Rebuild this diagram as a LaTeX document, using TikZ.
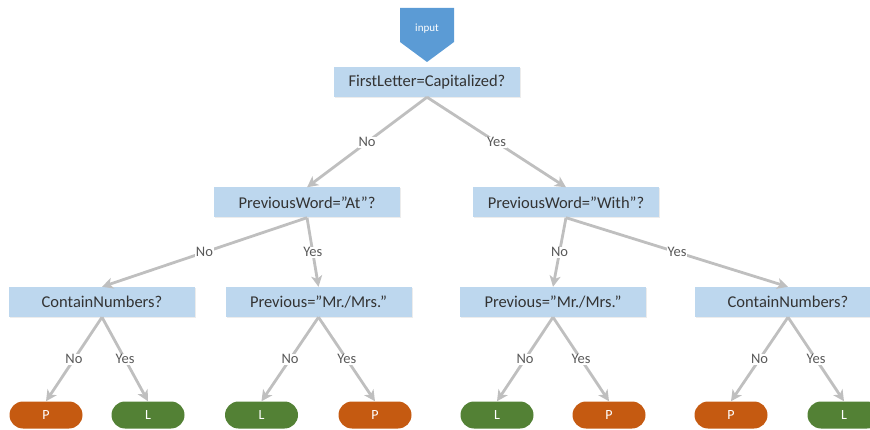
\documentclass[tikz,border=0pt]{standalone}
\usepackage{fontspec}
\setmainfont{Carlito}
\usetikzlibrary{arrows.meta,shapes.geometric,shadows}
\definecolor{qblue}{HTML}{BDD7EE}
\definecolor{inblue}{HTML}{5B9BD5}
\definecolor{leafP}{HTML}{C55A11}
\definecolor{leafL}{HTML}{538135}
\definecolor{edgegray}{HTML}{BFBFBF}
\definecolor{labgray}{HTML}{595959}
\definecolor{txtgray}{HTML}{333333}
\tikzset{
  question/.style={fill=qblue, minimum width=186pt, minimum height=30pt,
    inner sep=0pt, text=txtgray, font=\fontsize{16.5}{18}\selectfont,
    drop shadow={shadow xshift=1pt, shadow yshift=-1pt, opacity=0.15}},
  leaf/.style={rounded corners=13.5pt, minimum width=73pt, minimum height=27pt,
    inner sep=0pt, text=white, font=\fontsize{14}{16}\selectfont},
  leafp/.style={leaf, fill=leafP},
  leafl/.style={leaf, fill=leafL},
  branch/.style={draw=edgegray, line width=2.8pt,
    -{Stealth[length=11pt,width=11pt,inset=3pt]}},
  answer/.style={fill=white, text=labgray, inner sep=1pt,
    font=\fontsize{14.5}{16}\selectfont},
}
\begin{document}
\begin{tikzpicture}[x=1pt,y=-1pt]
\useasboundingbox (0,0) rectangle (870,430);
\clip (0,0) rectangle (870,430);

% entry marker
\path[fill=inblue] (400,8) -- (454,8) -- (454,42) -- (427,62) -- (400,42) -- cycle;
\node[text=white, font=\fontsize{11}{13}\selectfont] (in) at (427,29) {input};

% question boxes
\node[question] (q0) at (427,82) {FirstLetter=Capitalized?};
\node[question] (q1) at (307,202.5) {PreviousWord=”At”?};
\node[question] (q2) at (566,202.5) {PreviousWord=”With”?};
\node[question] (q3) at (102,302) {ContainNumbers?};
\node[question] (q4) at (318.5,302) {Previous=”Mr./Mrs.”};
\node[question] (q5) at (553,302) {Previous=”Mr./Mrs.”};
\node[question] (q6) at (788,302) {ContainNumbers?};

% leaves
\node[leafp] (l1) at (46,415) {P};
\node[leafl] (l2) at (148,415) {L};
\node[leafl] (l3) at (261.5,415) {L};
\node[leafp] (l4) at (375,415) {P};
\node[leafl] (l5) at (497,415) {L};
\node[leafp] (l6) at (609,415) {P};
\node[leafp] (l7) at (731,415) {P};
\node[leafl] (l8) at (844,415) {L};

% branches
\draw[branch] (q0.south) -- node[answer] {No} (q1.north);
\draw[branch] (q0.south) -- node[answer] {Yes} (q2.north);
\draw[branch] (q1.south) -- node[answer] {No} (q3.north);
\draw[branch] (q1.south) -- node[answer] {Yes} (q4.north);
\draw[branch] (q2.south) -- node[answer] {No} (q5.north);
\draw[branch] (q2.south) -- node[answer] {Yes} (q6.north);
\draw[branch] (q3.south) -- node[answer] {No} (l1.north);
\draw[branch] (q3.south) -- node[answer] {Yes} (l2.north);
\draw[branch] (q4.south) -- node[answer] {No} (l3.north);
\draw[branch] (q4.south) -- node[answer] {Yes} (l4.north);
\draw[branch] (q5.south) -- node[answer] {No} (l5.north);
\draw[branch] (q5.south) -- node[answer] {Yes} (l6.north);
\draw[branch] (q6.south) -- node[answer] {No} (l7.north);
\draw[branch] (q6.south) -- node[answer] {Yes} (l8.north);
\end{tikzpicture}
\end{document}
